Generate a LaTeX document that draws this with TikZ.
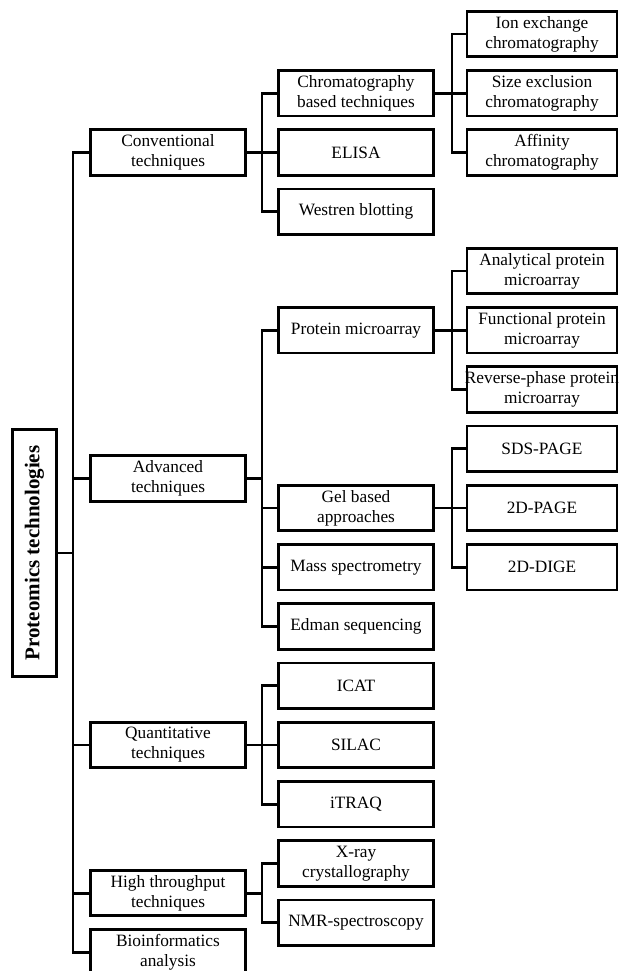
\documentclass[tikz,border=0pt]{standalone}
\usepackage{fontspec}
\setmainfont{Liberation Serif}
\begin{document}
\begin{tikzpicture}[x=1pt,y=-1pt,
  box/.style={draw, line width=2.8pt, minimum width=155.5pt, minimum height=45.5pt, inner sep=0pt, align=center, font=\fontsize{17.3}{20}\selectfont},
  leaf/.style={box, minimum width=150pt},
  rootbox/.style={draw, line width=2.8pt, minimum width=247.5pt, minimum height=44.5pt, inner sep=0pt, rotate=90, font=\fontsize{21}{24}\selectfont\bfseries},
  conn/.style={line width=2.8pt, line cap=rect}]
\useasboundingbox (0,0) rectangle (619,971);
\clip (0,0) rectangle (619,971);
% root
\node[rootbox] (root) at (34.5,553) {Proteomics technologies};
% level 1
\node[box] (conv)  at (168,152.5) {Conventional\\techniques};
\node[box] (adv)   at (168,478.4) {Advanced\\techniques};
\node[box] (quant) at (168,745)   {Quantitative\\techniques};
\node[box] (high)  at (168,893.1) {High throughput\\techniques};
\node[box] (bio)   at (168,952.4) {Bioinformatics\\analysis};
% level 2
\node[box] (chrom) at (356,93.25)  {Chromatography\\based techniques};
\node[box] (elisa) at (356,152.5)  {ELISA};
\node[box] (west)  at (356,211.75) {Westren blotting};
\node[box] (pmic)  at (356,330.25) {Protein microarray};
\node[box] (gel)   at (356,508)    {Gel based\\approaches};
\node[box] (mass)  at (356,567.25) {Mass spectrometry};
\node[box] (edman) at (356,626.5)  {Edman sequencing};
\node[box] (icat)  at (356,685.75) {ICAT};
\node[box] (silac) at (356,745)    {SILAC};
\node[box] (itraq) at (356,804.25) {iTRAQ};
\node[box] (xray)  at (356,863.5)  {X-ray\\crystallography};
\node[box] (nmr)   at (356,922.75) {NMR-spectroscopy};
% level 3
\node[leaf] (ion)  at (542,34)     {Ion exchange\\chromatography};
\node[leaf] (size) at (542,93.25)  {Size exclusion\\chromatography};
\node[leaf] (aff)  at (542,152.5)  {Affinity\\chromatography};
\node[leaf] (ana)  at (542,271)    {Analytical protein\\microarray};
\node[leaf] (fun)  at (542,330.25) {Functional protein\\microarray};
\node[leaf] (rev)  at (542,389.5)  {\hbox to 140pt{\hss Reverse-phase protein\hss}\\microarray};
\node[leaf] (sds)  at (542,448.75) {SDS-PAGE};
\node[leaf] (tdp)  at (542,508)    {2D-PAGE};
\node[leaf] (tdd)  at (542,567.25) {2D-DIGE};
% bus coordinates
\coordinate (t)  at (73,0);
\coordinate (b2) at (262,0);
\coordinate (b3) at (452,0);
% connectors
\foreach \c in {conv,adv,quant,high,bio}
  \draw[conn] (root.south) -- (root.south -| t) |- (\c.west);
\foreach \c in {chrom,elisa,west}
  \draw[conn] (conv.east) -- (conv.east -| b2) |- (\c.west);
\foreach \c in {pmic,gel,mass,edman}
  \draw[conn] (adv.east) -- (adv.east -| b2) |- (\c.west);
\foreach \c in {icat,silac,itraq}
  \draw[conn] (quant.east) -- (quant.east -| b2) |- (\c.west);
\foreach \c in {xray,nmr}
  \draw[conn] (high.east) -- (high.east -| b2) |- (\c.west);
\foreach \c in {ion,size,aff}
  \draw[conn] (chrom.east) -- (chrom.east -| b3) |- (\c.west);
\foreach \c in {ana,fun,rev}
  \draw[conn] (pmic.east) -- (pmic.east -| b3) |- (\c.west);
\foreach \c in {sds,tdp,tdd}
  \draw[conn] (gel.east) -- (gel.east -| b3) |- (\c.west);
\end{tikzpicture}
\end{document}
